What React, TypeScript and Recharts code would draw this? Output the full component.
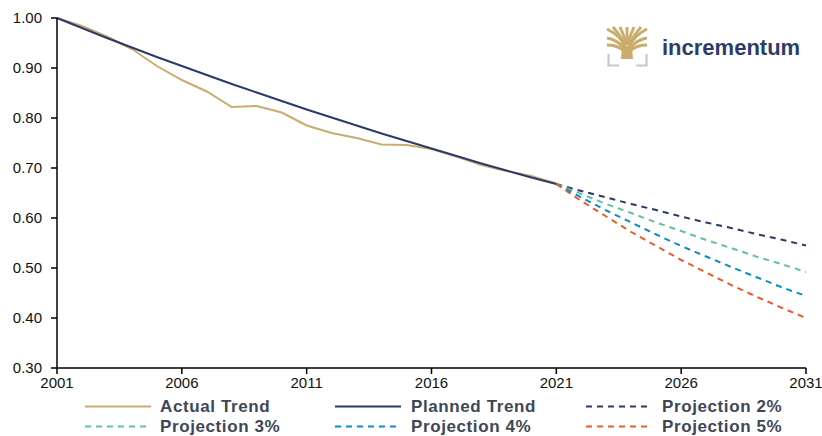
import React from "react";
import { LineChart, Line, XAxis, YAxis, Legend } from "recharts";

const years = [2001,2002,2003,2004,2005,2006,2007,2008,2009,2010,2011,2012,2013,2014,2015,2016,2017,2018,2019,2020,2021,2022,2023,2024,2025,2026,2027,2028,2029,2030,2031];
const actual = [1.0,0.984,0.963,0.938,0.904,0.876,0.853,0.822,0.824,0.811,0.785,0.770,0.760,0.747,0.746,0.738,0.723,0.706,0.694,0.684,0.669];
const planned = [1.0,0.98,0.96,0.941,0.922,0.904,0.886,0.868,0.851,0.834,0.817,0.801,0.785,0.769,0.754,0.739,0.724,0.709,0.695,0.681,0.668];
const proj2 = [0.668,0.654,0.641,0.628,0.616,0.603,0.591,0.580,0.568,0.557,0.545];
const proj3 = [0.668,0.648,0.628,0.610,0.591,0.574,0.556,0.540,0.523,0.508,0.492];
const proj4 = [0.668,0.641,0.615,0.591,0.567,0.544,0.523,0.502,0.482,0.462,0.444];
const proj5 = [0.668,0.634,0.603,0.572,0.544,0.516,0.491,0.466,0.443,0.421,0.400];
const xTicks = [2001,2006,2011,2016,2021,2026,2031];
const yTicks = [0.3,0.4,0.5,0.6,0.7,0.8,0.9,1.0];

const seriesNames = ["Actual Trend","Planned Trend","Projection 2%","Projection 3%","Projection 4%","Projection 5%"];
const seriesColors = ["#C9AC6E","#2B3A6B","#2B3A6B","#5EC3A0","#0D8BC9","#F05A2A"];
const seriesKeys = ["actual","planned","p2","p3","p4","p5"];

const projStart = 2021;
const data = years.map((y, i) => {
  const j = y - projStart;
  return {
    year: y,
    actual: i < actual.length ? actual[i] : undefined,
    planned: i < planned.length ? planned[i] : undefined,
    p2: j >= 0 ? proj2[j] : undefined,
    p3: j >= 0 ? proj3[j] : undefined,
    p4: j >= 0 ? proj4[j] : undefined,
    p5: j >= 0 ? proj5[j] : undefined,
  };
});

const legendLineX = [85, 335, 586];
const legendTextX = [160, 411, 662];
const legendLineY = [16.5, 36.5];
const legendTextY = [22, 42];

function LegendContent() {
  return (
    <svg width={822} height={46} style={{ display: "block" }}>
      {seriesNames.map((name, i) => {
        const col = i % 3;
        const row = Math.floor(i / 3);
        const dashed = i >= 2;
        const x1 = legendLineX[col];
        const len = col === 2 ? 62 : 66;
        return (
          <g key={name}>
            <line x1={x1} x2={x1 + len} y1={legendLineY[row]} y2={legendLineY[row]} stroke={seriesColors[i]} strokeWidth={2} strokeDasharray={dashed ? "6 5" : undefined} />
            <text x={legendTextX[col]} y={legendTextY[row]} fontFamily="'Liberation Sans', Arial, sans-serif" fontWeight="bold" fontSize={17} letterSpacing={0.6} fill="#3E4758">{name}</text>
          </g>
        );
      })}
    </svg>
  );
}

function Logo() {
  const gold = "#C9AC6E";
  return (
    <svg width={822} height={436} style={{ position: "absolute", left: 0, top: 0, pointerEvents: "none" }}>
      <g stroke={gold} strokeWidth={3} fill="none" strokeLinecap="butt">
        <path d="M625 47 C622 38 615 33 607 29" />
        <path d="M625 46 C622 37 617 32 613 27" />
        <path d="M626 45 C625 37 622 32 620 27" />
        <path d="M627 45 L627 27" />
        <path d="M628 45 C629 37 632 32 634 27" />
        <path d="M629 46 C632 37 637 32 641 27" />
        <path d="M629 47 C633 38 639 33 647 29" />
        <path d="M624 48 C619 42 613 39 607 38" />
        <path d="M630 48 C635 42 641 39 647 38" />
        <path d="M623 50 C618 46 612 45 607 45" />
        <path d="M631 50 C636 46 642 45 647 45" />
      </g>
      <path d="M621 59 L622 48 C624 45 630 45 632 48 L633 59 Z" fill={gold} />
      <path d="M608.5 54 L608.5 65.5 L619 65.5" stroke="#C8C8C8" strokeWidth={2.2} fill="none" />
      <path d="M636 65.5 L646.5 65.5 L646.5 54" stroke="#C8C8C8" strokeWidth={2.2} fill="none" />
      <text x={662} y={55} fontFamily="'Liberation Sans', Arial, sans-serif" fontWeight="bold" fontSize={22} fill="#2D3C6B">incrementum</text>
    </svg>
  );
}

export default function App() {
  return (
    <div style={{ position: "absolute", left: 0, top: 0, width: 822, height: 436, background: "#fff" }}>
      <LineChart width={822} height={436} data={data} margin={{ top: 18, right: 16, bottom: 0, left: 0 }}>
        <XAxis
          dataKey="year"
          type="number"
          domain={[2001, 2031]}
          ticks={xTicks}
          interval={0}
          height={22}
          stroke="#000"
          strokeWidth={1.5}
          tickSize={6}
          tickMargin={3}
          tick={{ fill: "#111", fontSize: 15, fontFamily: "'Liberation Sans', Arial, sans-serif" }}
          tickLine={{ stroke: "#000" }}
        />
        <YAxis
          type="number"
          domain={[0.3, 1.0]}
          ticks={yTicks}
          interval={0}
          width={57}
          stroke="#000"
          strokeWidth={1.5}
          tickSize={6}
          tickMargin={9}
          tickFormatter={(v: number) => v.toFixed(2)}
          tick={{ fill: "#111", fontSize: 15, fontFamily: "'Liberation Sans', Arial, sans-serif" }}
          tickLine={{ stroke: "#000" }}
        />
        <Legend verticalAlign="bottom" content={() => <LegendContent />} wrapperStyle={{ left: 0, width: 822, height: 46 }} />
        {seriesKeys.map((k, i) => (
          <Line
            key={k}
            dataKey={k}
            name={seriesNames[i]}
            stroke={seriesColors[i]}
            strokeWidth={2}
            strokeDasharray={i >= 2 ? "6 5" : undefined}
            dot={false}
            activeDot={false}
            isAnimationActive={false}
            connectNulls={false}
            type="linear"
          />
        ))}
      </LineChart>
      <Logo />
    </div>
  );
}
